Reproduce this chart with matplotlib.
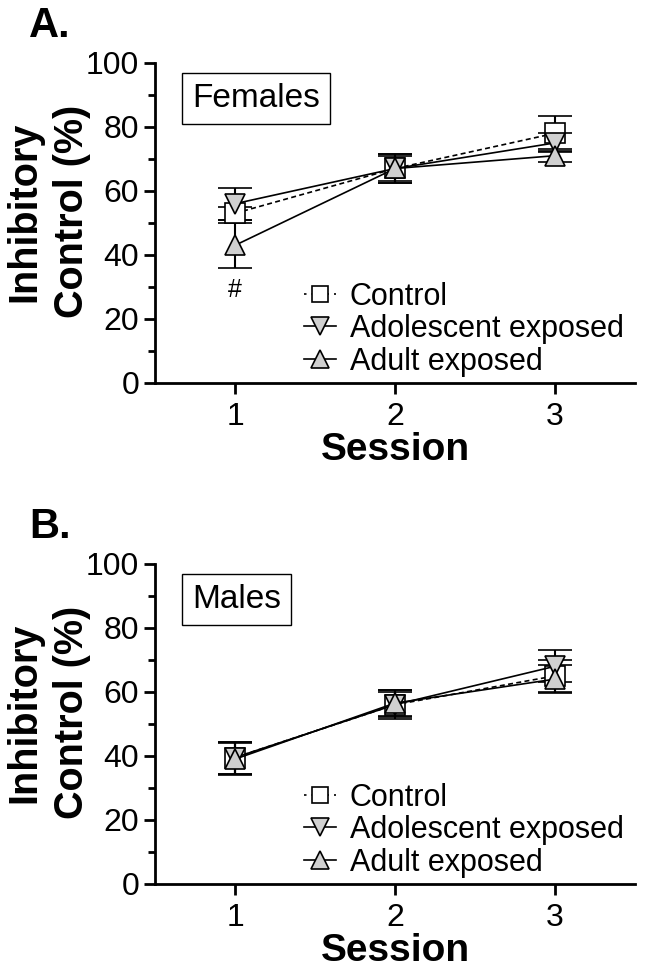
import matplotlib
matplotlib.use("Agg")
import matplotlib.pyplot as plt
from matplotlib.ticker import MultipleLocator
from matplotlib.lines import Line2D

plt.rcParams['font.family'] = ['Liberation Sans', 'DejaVu Sans']

sessions = [1, 2, 3]
groups = ["Control", "Adolescent exposed", "Adult exposed"]

fem_control = [53, 67, 78]
fem_control_sem = [2, 4, 5.5]
fem_adol = [56, 67, 75]
fem_adol_sem = [5, 4.5, 3]
fem_adult = [43, 67, 71]
fem_adult_sem = [7, 4.5, 2]

male_control = [39.5, 56, 65]
male_control_sem = [5, 4, 5]
male_adol = [39.5, 56, 68]
male_adol_sem = [5, 4.5, 5]
male_adult = [39, 56.5, 64]
male_adult_sem = [5, 4, 4.5]

fig = plt.figure(figsize=(6.47, 9.76), dpi=100)

styles = [
    dict(marker='s', mfc='white', ls='--', ms=14),
    dict(marker='v', mfc='#d0d0d0', ls='-', ms=15),
    dict(marker='^', mfc='#d0d0d0', ls='-', ms=15),
]

def panel(rect, data, label, letter, hashmark=False):
    ax = fig.add_axes(rect)
    handles = []
    for (vals, sem), st, name in zip(data, styles, groups):
        ax.errorbar(sessions, vals, yerr=sem, color='black', lw=1.2,
                    ls=st['ls'], marker=st['marker'], ms=st['ms'],
                    mfc=st['mfc'], mec='black', mew=1.2,
                    capsize=12, capthick=1.5, elinewidth=1.5,
                    dashes=(3, 2) if st['ls'] == '--' else (None, None))
        h = Line2D([], [], color='black', lw=1.2,
                   ls=(0, (1.5, 3)) if st['ls'] == '--' else '-',
                   marker=st['marker'], ms=st['ms'] * 0.85, mfc=st['mfc'],
                   mec='black', mew=1.2)
        handles.append(h)
    ax.set_xlim(0.5, 3.5)
    ax.set_ylim(0, 100)
    ax.set_xticks(sessions)
    ax.yaxis.set_major_locator(MultipleLocator(20))
    ax.yaxis.set_minor_locator(MultipleLocator(10))
    for s in ['top', 'right']:
        ax.spines[s].set_visible(False)
    for s in ['left', 'bottom']:
        ax.spines[s].set_linewidth(2)
    ax.tick_params(axis='both', which='major', width=2, length=8, labelsize=23)
    ax.tick_params(axis='y', which='minor', width=2, length=5)
    ax.tick_params(axis='x', which='major', pad=6)
    ax.set_xlabel('Session', fontsize=28, fontweight='bold', labelpad=0)
    ax.set_ylabel('Inhibitory\nControl (%)', fontsize=28.5, fontweight='bold',
                  linespacing=1.32)
    ax.yaxis.set_label_coords(-0.133, 0.535)
    ax.text(0.077, 0.89, label, transform=ax.transAxes, fontsize=24,
            va='center', ha='left',
            bbox=dict(boxstyle='square,pad=0.3', fc='white', ec='black', lw=1))
    fig.text(0.045, rect[1] + rect[3] + 0.038, letter, fontsize=30,
             fontweight='bold', va='center', ha='left')
    if hashmark:
        ax.text(1, 29, '#', fontsize=18, ha='center', va='center')
    ax.legend(handles=handles, labels=groups, loc='lower left',
              bbox_to_anchor=(0.31, 0.02), frameon=False, fontsize=22,
              handlelength=1.05, handletextpad=0.45, labelspacing=0.08,
              borderaxespad=0.0, borderpad=0.0)
    return ax

panel([0.2396, 0.6076, 0.742, 0.328],
      [(fem_control, fem_control_sem), (fem_adol, fem_adol_sem), (fem_adult, fem_adult_sem)],
      'Females', 'A.', hashmark=True)
panel([0.2396, 0.0943, 0.742, 0.328],
      [(male_control, male_control_sem), (male_adol, male_adol_sem), (male_adult, male_adult_sem)],
      'Males', 'B.')

fig.savefig('out.png', dpi=100)
